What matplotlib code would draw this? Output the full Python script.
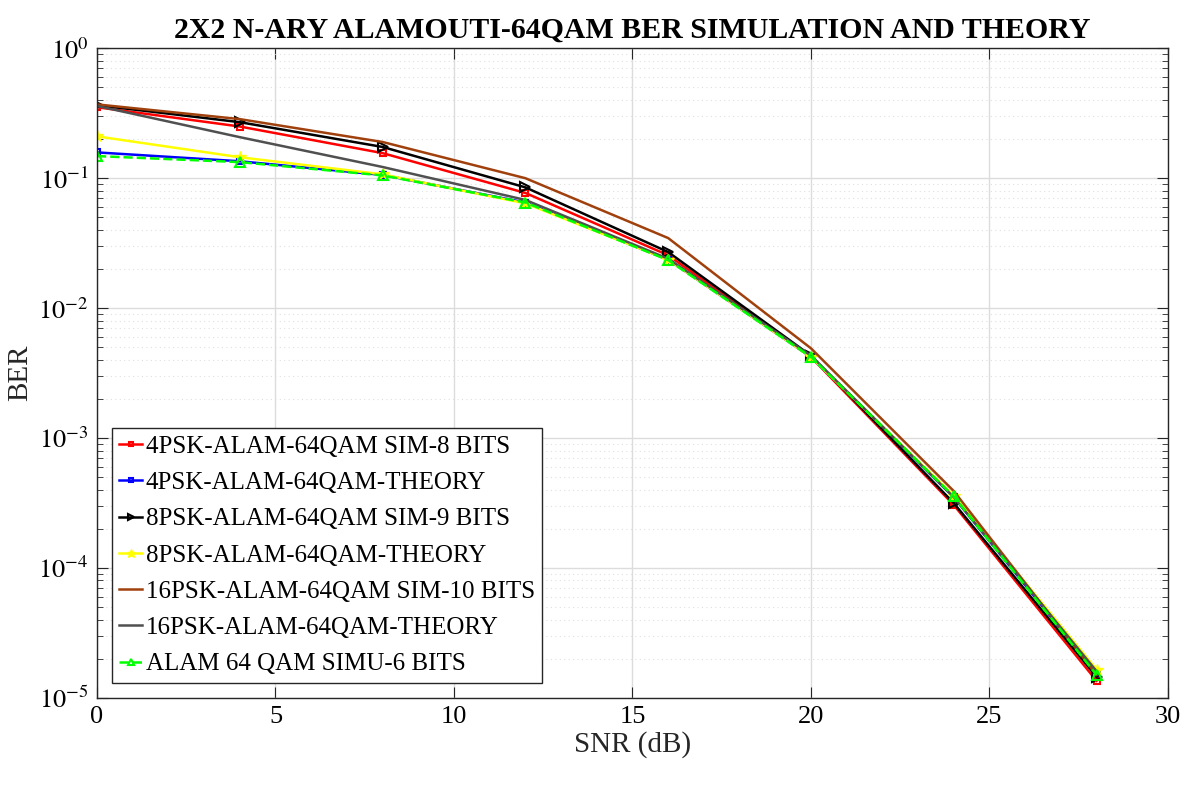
import numpy as np
import matplotlib.pyplot as plt
from matplotlib.ticker import LogLocator, FuncFormatter, NullFormatter

plt.rcParams['font.family'] = 'Liberation Serif'
plt.rcParams['mathtext.fontset'] = 'stix'

# SNR points (dB)
snr = [0, 4, 8, 12, 16, 20, 24, 28]

# BER values
ber_4psk_sim = [0.352, 0.25, 0.156, 0.077, 0.0255, 4.2e-3, 3.05e-4, 1.35e-5]
ber_4psk_th = [0.158, 0.135, 0.106, 0.065, 0.0236, 4.2e-3, 3.5e-4, 1.55e-5]
ber_8psk_sim = [0.365, 0.27, 0.174, 0.085, 0.027, 4.3e-3, 3.15e-4, 1.45e-5]
ber_8psk_th = [0.21, 0.145, 0.107, 0.064, 0.0236, 4.2e-3, 3.6e-4, 1.65e-5]
ber_16psk_sim = [0.37, 0.285, 0.19, 0.1, 0.0346, 4.9e-3, 3.9e-4, 1.5e-5]
ber_16psk_th = [0.36, 0.207, 0.122, 0.068, 0.024, 4.3e-3, 3.5e-4, 1.6e-5]
ber_64qam_sim = [0.148, 0.133, 0.105, 0.065, 0.0234, 4.2e-3, 3.55e-4, 1.5e-5]

labels = ['4PSK-ALAM-64QAM SIM-8 BITS', '4PSK-ALAM-64QAM-THEORY',
          '8PSK-ALAM-64QAM SIM-9 BITS', '8PSK-ALAM-64QAM-THEORY',
          '16PSK-ALAM-64QAM SIM-10 BITS', '16PSK-ALAM-64QAM-THEORY',
          'ALAM 64 QAM SIMU-6 BITS']

fig = plt.figure(figsize=(11.9, 7.92), dpi=100)
ax = fig.add_axes([0.0815, 0.119, 0.9, 0.82])

ax.semilogy(snr, ber_4psk_sim, '-s', color='red', lw=1.8, ms=5, mfc='none', mew=1.5, label=labels[0])
ax.semilogy(snr, ber_4psk_th, '-s', color='blue', lw=1.8, ms=5, mfc='none', mew=1.5, label=labels[1])
ax.semilogy(snr, ber_8psk_sim, '->', color='black', lw=1.8, ms=7, mfc='none', mew=1.5, label=labels[2])
ax.semilogy(snr, ber_8psk_th, '-*', color='yellow', lw=1.8, ms=9, mew=1.0, label=labels[3])
ax.semilogy(snr, ber_16psk_sim, '-', color='#a0410d', lw=1.8, label=labels[4])
ax.semilogy(snr, ber_16psk_th, '-', color='#505050', lw=1.8, label=labels[5])
ax.semilogy(snr, ber_64qam_sim, '--^', color='#00ff00', lw=1.8, ms=7, mfc='none', mew=1.5, label=labels[6])

ax.set_xlim(0, 30)
ax.set_ylim(1e-5, 1)
ax.set_xticks([0, 5, 10, 15, 20, 25, 30])
ax.yaxis.set_major_locator(LogLocator(base=10, numticks=10))
ax.yaxis.set_minor_locator(LogLocator(base=10, subs=np.arange(2, 10), numticks=10))
ax.yaxis.set_minor_formatter(NullFormatter())
ax.yaxis.set_major_formatter(FuncFormatter(lambda v, p: r'$10^{%d}$' % int(round(np.log10(v)))))

ax.grid(True, which='major', color='#dcdcdc', lw=1.0)
ax.grid(True, which='minor', axis='y', color='#e0e0e0', lw=0.8, ls=(0, (1, 3)))
ax.set_axisbelow(True)

ax.tick_params(which='both', direction='in', top=True, right=True, color='#262626')
ax.tick_params(axis='x', labelsize=19, pad=6)
ax.tick_params(axis='y', labelsize=19, pad=6)
ax.tick_params(which='major', length=8)
ax.tick_params(which='minor', length=4)
for s in ax.spines.values():
    s.set_color('#262626')
    s.set_linewidth(1.0)

ax.set_xlabel('SNR (dB)', fontsize=21, color='#262626', labelpad=2)
ax.set_ylabel('BER', fontsize=21, color='#262626')
ax.set_title('2X2 N-ARY ALAMOUTI-64QAM BER SIMULATION AND THEORY', fontsize=21.5,
             fontweight='bold', pad=8)

leg = ax.legend(loc='lower left', fontsize=18, fancybox=False, edgecolor='#262626',
                framealpha=1, handlelength=0.9, handletextpad=0.15, borderpad=0.3,
                labelspacing=0.55, borderaxespad=0.6, markerscale=0.7)
leg.get_frame().set_linewidth(1.0)

fig.savefig('out.png', dpi=100)
